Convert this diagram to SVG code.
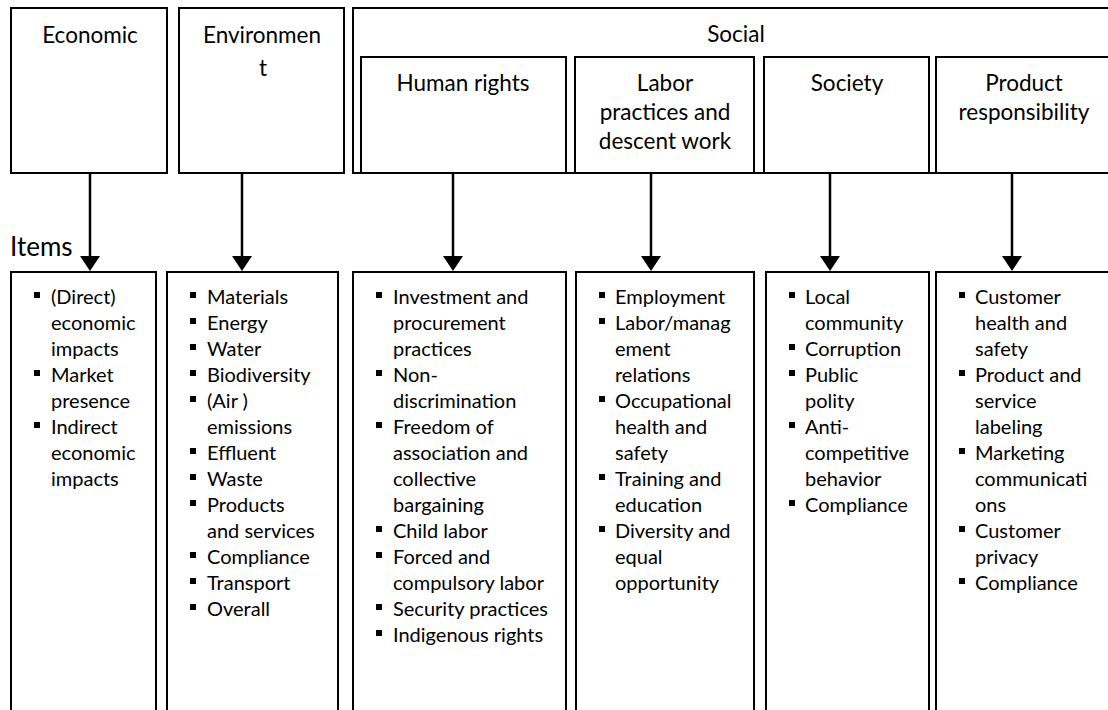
<svg xmlns="http://www.w3.org/2000/svg" width="1108" height="710" viewBox="0 0 1108 710">
  <style>
    .box { fill: #ffffff; stroke: #000000; stroke-width: 2; }
    .head { font-family: Lato, "Liberation Sans", sans-serif; font-size: 22.5px; fill: #000000; text-anchor: middle; }
    .item { font-family: Lato, "Liberation Sans", sans-serif; font-size: 20px; fill: #000000; }
    .label { font-family: Lato, "Liberation Sans", sans-serif; font-size: 26px; fill: #000000; }
    .conn { stroke: #000000; stroke-width: 2.5; fill: none; marker-end: url(#arrow); }
  </style>
  <defs>
    <marker id="arrow" markerUnits="userSpaceOnUse" viewBox="0 -10 15 20" refX="0" refY="0" markerWidth="15" markerHeight="20" orient="auto">
      <path d="M0,-10 L15,0 L0,10 z" fill="#000000"/>
    </marker>
    <rect id="bullet" width="6" height="6" fill="#000000"/>
  </defs>

  <rect width="1108" height="710" fill="#ffffff"/>

  <!-- category headers -->
  <g id="economic">
    <rect class="box" x="11" y="8" width="156" height="165"/>
    <text class="head" x="90" y="43">Economic</text>
  </g>
  <g id="environment">
    <rect class="box" x="179" y="8" width="165" height="165"/>
    <text class="head" x="262" y="43">Environmen</text>
    <text class="head" x="263" y="76">t</text>
  </g>
  <g id="social">
    <rect class="box" x="353" y="8" width="770" height="165"/>
    <text class="head" x="736" y="42">Social</text>
  </g>
  <g id="human-rights">
    <rect class="box" x="361" y="57" width="205" height="116"/>
    <text class="head" x="463" y="91">Human rights</text>
  </g>
  <g id="labor">
    <rect class="box" x="575" y="57" width="179" height="116"/>
    <text class="head" x="665" y="91">Labor</text>
    <text class="head" x="665" y="120">practices and</text>
    <text class="head" x="665" y="149">descent work</text>
  </g>
  <g id="society">
    <rect class="box" x="764" y="57" width="165" height="116"/>
    <text class="head" x="847" y="91">Society</text>
  </g>
  <g id="product">
    <rect class="box" x="936" y="57" width="180" height="116"/>
    <text class="head" x="1024" y="91">Product</text>
    <text class="head" x="1024" y="120">responsibility</text>
  </g>

  <text class="label" x="10" y="256">Items</text>

  <!-- connectors: header to item list -->
  <g id="connectors">
    <line class="conn" x1="90" y1="173" x2="90" y2="256"/>
    <line class="conn" x1="242" y1="173" x2="242" y2="256"/>
    <line class="conn" x1="453" y1="173" x2="453" y2="256"/>
    <line class="conn" x1="651" y1="173" x2="651" y2="256"/>
    <line class="conn" x1="830" y1="173" x2="830" y2="256"/>
    <line class="conn" x1="1012" y1="173" x2="1012" y2="256"/>
  </g>

  <!-- item lists -->
  <g id="items-economic">
    <rect class="box" x="11" y="272" width="145" height="460"/>
    <use href="#bullet" x="34" y="292"/>
    <use href="#bullet" x="34" y="370"/>
    <use href="#bullet" x="34" y="422"/>
    <text class="item" x="51" y="304">(Direct)</text>
    <text class="item" x="51" y="330">economic</text>
    <text class="item" x="51" y="356">impacts</text>
    <text class="item" x="51" y="382">Market</text>
    <text class="item" x="51" y="408">presence</text>
    <text class="item" x="51" y="434">Indirect</text>
    <text class="item" x="51" y="460">economic</text>
    <text class="item" x="51" y="486">impacts</text>
  </g>
  <g id="items-environment">
    <rect class="box" x="167" y="272" width="171" height="460"/>
    <use href="#bullet" x="190" y="292"/>
    <use href="#bullet" x="190" y="318"/>
    <use href="#bullet" x="190" y="344"/>
    <use href="#bullet" x="190" y="370"/>
    <use href="#bullet" x="190" y="396"/>
    <use href="#bullet" x="190" y="448"/>
    <use href="#bullet" x="190" y="474"/>
    <use href="#bullet" x="190" y="500"/>
    <use href="#bullet" x="190" y="552"/>
    <use href="#bullet" x="190" y="578"/>
    <use href="#bullet" x="190" y="604"/>
    <text class="item" x="207" y="304">Materials</text>
    <text class="item" x="207" y="330">Energy</text>
    <text class="item" x="207" y="356">Water</text>
    <text class="item" x="207" y="382">Biodiversity</text>
    <text class="item" x="207" y="408">(Air )</text>
    <text class="item" x="207" y="434">emissions</text>
    <text class="item" x="207" y="460">Effluent</text>
    <text class="item" x="207" y="486">Waste</text>
    <text class="item" x="207" y="512">Products</text>
    <text class="item" x="207" y="538">and services</text>
    <text class="item" x="207" y="564">Compliance</text>
    <text class="item" x="207" y="590">Transport</text>
    <text class="item" x="207" y="616">Overall</text>
  </g>
  <g id="items-human-rights">
    <rect class="box" x="353" y="272" width="213" height="460"/>
    <use href="#bullet" x="376" y="292"/>
    <use href="#bullet" x="376" y="370"/>
    <use href="#bullet" x="376" y="422"/>
    <use href="#bullet" x="376" y="526"/>
    <use href="#bullet" x="376" y="552"/>
    <use href="#bullet" x="376" y="604"/>
    <use href="#bullet" x="376" y="630"/>
    <text class="item" x="393" y="304">Investment and</text>
    <text class="item" x="393" y="330">procurement</text>
    <text class="item" x="393" y="356">practices</text>
    <text class="item" x="393" y="382">Non-</text>
    <text class="item" x="393" y="408">discrimination</text>
    <text class="item" x="393" y="434">Freedom of</text>
    <text class="item" x="393" y="460">association and</text>
    <text class="item" x="393" y="486">collective</text>
    <text class="item" x="393" y="512">bargaining</text>
    <text class="item" x="393" y="538">Child labor</text>
    <text class="item" x="393" y="564">Forced and</text>
    <text class="item" x="393" y="590">compulsory labor</text>
    <text class="item" x="393" y="616">Security practices</text>
    <text class="item" x="393" y="642">Indigenous rights</text>
  </g>
  <g id="items-labor">
    <rect class="box" x="576" y="272" width="178" height="460"/>
    <use href="#bullet" x="599" y="292"/>
    <use href="#bullet" x="599" y="318"/>
    <use href="#bullet" x="599" y="396"/>
    <use href="#bullet" x="599" y="474"/>
    <use href="#bullet" x="599" y="526"/>
    <text class="item" x="615" y="304">Employment</text>
    <text class="item" x="615" y="330">Labor/manag</text>
    <text class="item" x="615" y="356">ement</text>
    <text class="item" x="615" y="382">relations</text>
    <text class="item" x="615" y="408">Occupational</text>
    <text class="item" x="615" y="434">health and</text>
    <text class="item" x="615" y="460">safety</text>
    <text class="item" x="615" y="486">Training and</text>
    <text class="item" x="615" y="512">education</text>
    <text class="item" x="615" y="538">Diversity and</text>
    <text class="item" x="615" y="564">equal</text>
    <text class="item" x="615" y="590">opportunity</text>
  </g>
  <g id="items-society">
    <rect class="box" x="766" y="272" width="163" height="460"/>
    <use href="#bullet" x="789" y="292"/>
    <use href="#bullet" x="789" y="344"/>
    <use href="#bullet" x="789" y="370"/>
    <use href="#bullet" x="789" y="422"/>
    <use href="#bullet" x="789" y="500"/>
    <text class="item" x="805" y="304">Local</text>
    <text class="item" x="805" y="330">community</text>
    <text class="item" x="805" y="356">Corruption</text>
    <text class="item" x="805" y="382">Public</text>
    <text class="item" x="805" y="408">polity</text>
    <text class="item" x="805" y="434">Anti-</text>
    <text class="item" x="805" y="460">competitive</text>
    <text class="item" x="805" y="486">behavior</text>
    <text class="item" x="805" y="512">Compliance</text>
  </g>
  <g id="items-product">
    <rect class="box" x="936" y="272" width="190" height="460"/>
    <use href="#bullet" x="959" y="292"/>
    <use href="#bullet" x="959" y="370"/>
    <use href="#bullet" x="959" y="448"/>
    <use href="#bullet" x="959" y="526"/>
    <use href="#bullet" x="959" y="578"/>
    <text class="item" x="975" y="304">Customer</text>
    <text class="item" x="975" y="330">health and</text>
    <text class="item" x="975" y="356">safety</text>
    <text class="item" x="975" y="382">Product and</text>
    <text class="item" x="975" y="408">service</text>
    <text class="item" x="975" y="434">labeling</text>
    <text class="item" x="975" y="460">Marketing</text>
    <text class="item" x="975" y="486">communicati</text>
    <text class="item" x="975" y="512">ons</text>
    <text class="item" x="975" y="538">Customer</text>
    <text class="item" x="975" y="564">privacy</text>
    <text class="item" x="975" y="590">Compliance</text>
  </g>
</svg>
